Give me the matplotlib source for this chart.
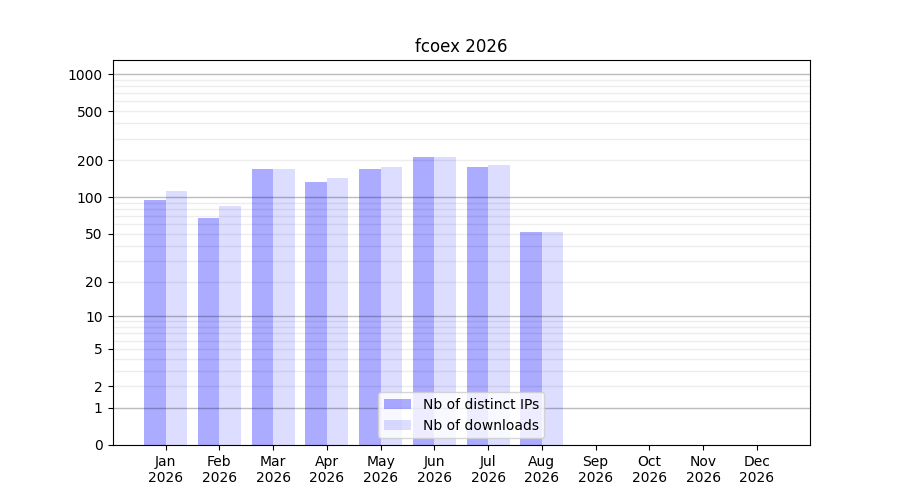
import numpy as np
import matplotlib
matplotlib.use("Agg")
import matplotlib.pyplot as plt

months = ["Jan", "Feb", "Mar", "Apr", "May", "Jun",
          "Jul", "Aug", "Sep", "Oct", "Nov", "Dec"]
year = "2026"
distinct_ips = [95, 68, 169, 133, 169, 212, 176, 52, 0, 0, 0, 0]
downloads = [112, 85, 169, 143, 176, 212, 182, 52, 0, 0, 0, 0]

ytick_values = [0, 1, 2, 5, 10, 20, 50, 100, 200, 500, 1000]
decades = [1, 10, 100, 1000]
minor_values = [m * d for d in [1, 10, 100] for m in range(2, 10)]


def fwd(v):
    return np.log10(1 + np.asarray(v, dtype=float))


def inv(v):
    return 10 ** np.asarray(v, dtype=float) - 1


fig, ax = plt.subplots(figsize=(9, 5), dpi=100)
x = np.arange(len(months))

ax.bar(x, distinct_ips, width=-0.4, align="edge", color="blue", alpha=0.33,
       label="Nb of distinct IPs")
ax.bar(x, downloads, width=0.4, align="edge", color="blue", alpha=0.135,
       label="Nb of downloads")

ax.set_yscale("function", functions=(fwd, inv))
ax.set_ylim(0, 1300)
ax.set_yticks(ytick_values)
ax.set_yticklabels([str(v) for v in ytick_values])
ax.set_yticks(minor_values, minor=True)
ax.tick_params(axis="y", which="minor", length=0)
ax.yaxis.grid(True, which="both", color="black", alpha=0.07, linewidth=1)
for d in decades:
    ax.axhline(d, color="black", alpha=0.2, linewidth=1, zorder=1.5)

ax.set_xticks(x)
ax.set_xticklabels([f"{m}\n{year}" for m in months])
ax.set_title("fcoex 2026")
ax.legend(loc="lower center")

plt.savefig("out.png")
